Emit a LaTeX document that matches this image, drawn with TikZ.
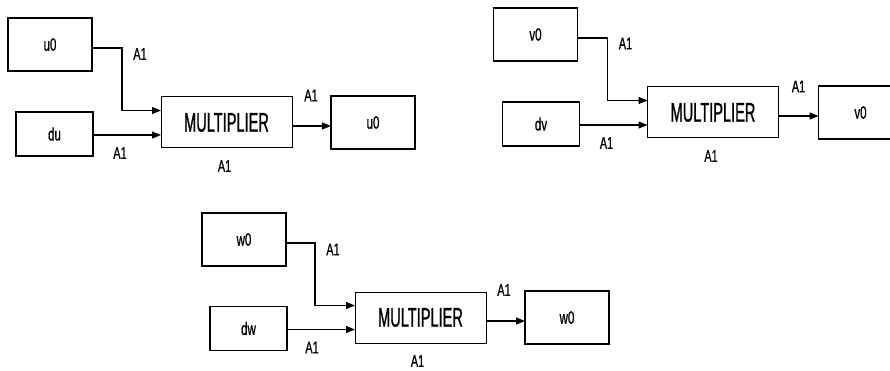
\documentclass[tikz,border=0pt]{standalone}
\usepackage{fontspec}
\newfontfamily\multfont[FakeStretch=0.54,FakeBold=0.8]{Liberation Sans}
\newfontfamily\labfont[FakeStretch=0.64,FakeBold=0.8]{Liberation Sans}
\usetikzlibrary{arrows.meta,positioning}

\begin{document}
\begin{tikzpicture}[
    x=1pt, y=-1pt,
    srcbox/.style={rectangle, draw, line width=1.7pt, outer sep=0pt, inner sep=0pt, minimum width=84pt, minimum height=53pt, font=\labfont\fontsize{18}{18}\selectfont},
    dbox/.style={srcbox, minimum width=77pt, minimum height=44pt},
    multbox/.style={rectangle, draw, line width=1pt, outer sep=0pt, inner sep=0pt, minimum width=131pt, minimum height=51pt, font=\multfont\fontsize{27}{27}\selectfont},
    wire/.style={-{Triangle[length=9pt,width=7pt]}, line width=1.2pt},
    lab/.style={inner sep=0pt, font=\labfont\fontsize{17}{17}\selectfont}
]
\useasboundingbox (0,0) rectangle (890,371);

% u group
\node[multbox] (multu) at (226.5,122.5) {MULTIPLIER};
\node[srcbox, above left=26pt and 69pt of multu] (u0in) {u0};
\node[dbox, left=68pt of multu, yshift=-11.5pt] (du) {du};
\node[srcbox, right=39pt of multu] (u0out) {u0};

% v group
\node[multbox] (multv) at (713,112.5) {MULTIPLIER};
\node[srcbox, above left=26pt and 70pt of multv] (v0in) {v0};
\node[dbox, left=68pt of multv, yshift=-11.5pt] (dv) {dv};
\node[srcbox, right=40pt of multv] (v0out) {v0};

% w group
\node[multbox] (multw) at (420.5,317.5) {MULTIPLIER};
\node[srcbox, above left=26pt and 69pt of multw] (w0in) {w0};
\node[dbox, left=68pt of multw, yshift=-11pt] (dw) {dw};
\node[srcbox, right=39pt of multw] (w0out) {w0};

% Arrows
\draw[wire] ([yshift=-3.5pt]u0in.east) -- ++(30,0) |- ([yshift=12pt]multu.west);
\draw[wire] ([yshift=-1pt]du.east) -- ([yshift=-12.5pt]multu.west);
\draw[wire] ([yshift=-3.5pt]multu.east) -- ([yshift=-3.5pt]u0out.west);
\draw[wire] ([yshift=-3.5pt]v0in.east) -- ++(30,0) |- ([yshift=12pt]multv.west);
\draw[wire] ([yshift=-1pt]dv.east) -- ([yshift=-12.5pt]multv.west);
\draw[wire] ([yshift=-3.5pt]multv.east) -- ([yshift=-3.5pt]v0out.west);
\draw[wire] ([yshift=-3.5pt]w0in.east) -- ++(29,0) |- ([yshift=12pt]multw.west);
\draw[wire] ([yshift=-1pt]dw.east) -- ([yshift=-12pt]multw.west);
\draw[wire] ([yshift=-3.5pt]multw.east) -- ([yshift=-3.5pt]w0out.west);

% Port labels
\node[lab] (lu1) at ([xshift=48pt,yshift=-9.5pt]u0in.east) {A1};
\node[lab] (lu2) at ([xshift=27pt,yshift=-19pt]du.east) {A1};
\node[lab] (lu3) at ([xshift=19pt,yshift=27pt]multu.east) {A1};
\node[lab, below=12pt of multu, xshift=-2pt] (lu4) {A1};
\node[lab] (lv1) at ([xshift=48pt,yshift=-9pt]v0in.east) {A1};
\node[lab] (lv2) at ([xshift=27pt,yshift=-19pt]dv.east) {A1};
\node[lab] (lv3) at ([xshift=20pt,yshift=26pt]multv.east) {A1};
\node[lab, below=12pt of multv, xshift=-2pt] (lv4) {A1};
\node[lab] (lw1) at ([xshift=47pt,yshift=-10pt]w0in.east) {A1};
\node[lab] (lw2) at ([xshift=25pt,yshift=-19pt]dw.east) {A1};
\node[lab] (lw3) at ([xshift=18pt,yshift=27.5pt]multw.east) {A1};
\node[lab, below=12pt of multw, xshift=-3pt] (lw4) {A1};

\end{tikzpicture}
\end{document}
